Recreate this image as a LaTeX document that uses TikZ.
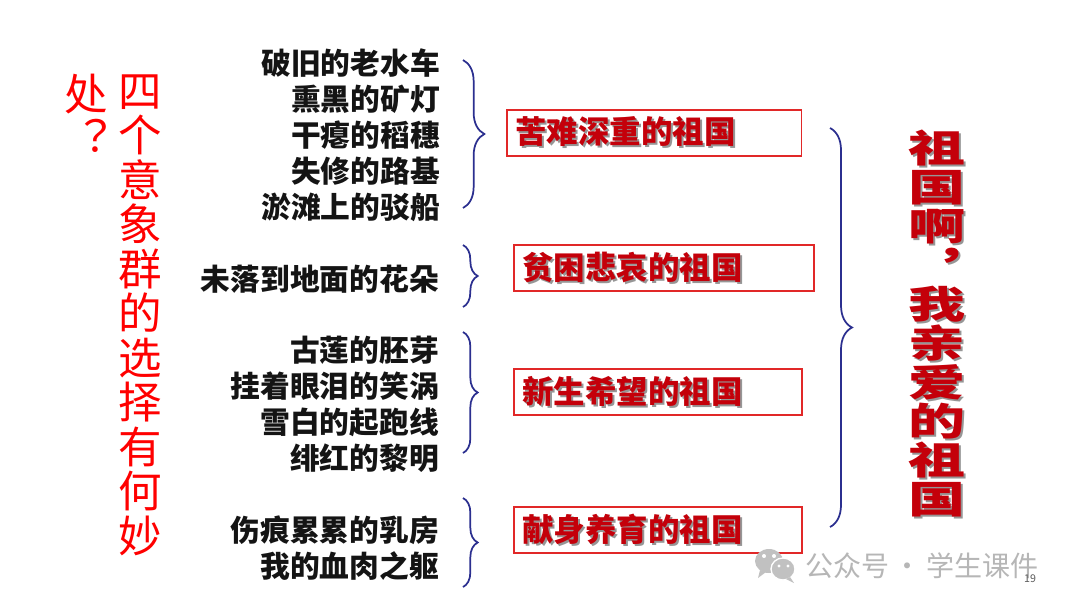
\documentclass[tikz,border=0pt]{standalone}
\usepackage{fontspec}
\usepackage{graphicx}
\usetikzlibrary{positioning,decorations.pathreplacing}
\newfontfamily\cjk{Noto Sans CJK SC}
\definecolor{bracenavy}{RGB}{43,47,143}
\definecolor{boxred}{RGB}{225,40,40}
\definecolor{titlered}{RGB}{255,0,0}
\definecolor{deepred}{RGB}{196,0,10}
\definecolor{itemblack}{RGB}{20,20,20}
\definecolor{shadowgray}{RGB}{150,150,150}
\definecolor{markgray}{RGB}{182,182,182}
\definecolor{pagegray}{RGB}{90,90,90}
\newcommand\shadowtext[1]{\rlap{\color{shadowgray}\kern1.5pt\raisebox{-1.5pt}{#1}}#1}

\begin{document}
\begin{tikzpicture}[x=0.75pt,y=-0.75pt,
	itemtext/.style={font=\cjk\bfseries\fontsize{22.3pt}{27pt}\selectfont, text=itemblack, align=right, inner sep=0pt},
	tagbox/.style={draw=boxred, line width=1.2pt, minimum height=34.5pt, inner xsep=6.5pt, inner ysep=0pt,
		text width=#1, align=left, text=deepred, font=\cjk\bfseries\fontsize{23.6pt}{26pt}\selectfont},
	vtitle/.style={font=\cjk\fontsize{32.6pt}{33.4pt}\selectfont, text=titlered, align=center, inner sep=0pt},
	bigtitle/.style={font=\cjk\bfseries\fontsize{28.5pt}{29.25pt}\selectfont, text=deepred, inner sep=0pt},
	bracket/.style={draw=bracenavy, line width=1.3pt, decorate, decoration={brace, amplitude=#1}},
	]
	\useasboundingbox[fill=white] (0,0) rectangle (1080,608);

	% question, read top-down, right column first
	\node[vtitle] (q1) at (140,315) {四\\个\\意\\象\\群\\的\\选\\择\\有\\何\\妙};
	\node[vtitle, left=7.5pt of q1.north west, anchor=north east] (q2) {处\\︖};

	% image groups
	\node[itemtext, anchor=east] (g1) at (440,135) {破旧的老水车\\熏黑的矿灯\\干瘪的稻穗\\失修的路基\\淤滩上的驳船};
	\node[itemtext, anchor=east] (g2) at (439,279) {未落到地面的花朵};
	\node[itemtext, anchor=east] (g3) at (439,404.5) {古莲的胚芽\\挂着眼泪的笑涡\\雪白的起跑线\\绯红的黎明};
	\node[itemtext, anchor=east] (g4) at (439,548) {伤痕累累的乳房\\我的血肉之躯};

	% what each group says
	\node[tagbox=208pt, anchor=west] (t1) at (506,133) {\shadowtext{苦难深重的祖国}};
	\node[tagbox=212pt, anchor=west] (t2) at (513,268) {\shadowtext{贫困悲哀的祖国}};
	\node[tagbox=203pt, anchor=west] (t3) at (513,392) {\shadowtext{新生希望的祖国}};
	\node[tagbox=203pt, anchor=west] (t4) at (513,530) {\shadowtext{献身养育的祖国}};

	\node[bigtitle] (mother) at (937,324) {\shadowtext{\scalebox{1.5}[1]{\parbox{1em}{\centering
		祖\\国\\啊\\︐\\我\\亲\\爱\\的\\祖\\国}}}};

	% braces
	\coordinate (b1t) at (463,60);  \coordinate (b1b) at (463,208);
	\coordinate (b2t) at (463,245); \coordinate (b2b) at (463,307);
	\coordinate (b3t) at (463,332); \coordinate (b3b) at (463,453);
	\coordinate (b4t) at (463,498); \coordinate (b4b) at (463,587);
	\coordinate (bbt) at (830,128); \coordinate (bbb) at (830,527);
	\draw[bracket=16pt] (b1t) -- (b1b);
	\draw[bracket=11pt] (b2t) -- (b2b);
	\draw[bracket=11pt] (b3t) -- (b3b);
	\draw[bracket=11pt] (b4t) -- (b4b);
	\draw[bracket=16.5pt] (bbt) -- (bbb);

	% watermark
	\fill[markgray!85] (769,561) ellipse [x radius=14, y radius=12];
	\fill[markgray!85] (760,570) -- (758,578) -- (766,572) -- cycle;
	\filldraw[fill=markgray!85, draw=white, line width=1pt] (783,569) ellipse [x radius=12, y radius=11];
	\fill[markgray!85] (790,577) -- (794,583) -- (786,579) -- cycle;
	\fill[white] (764,556) circle [radius=2] (774,556) circle [radius=2];
	\fill[white] (779,566) circle [radius=1.6] (788,566) circle [radius=1.6];
	\node[text=markgray, font=\cjk\fontsize{21pt}{24pt}\selectfont, inner sep=0pt, anchor=west] (wm) at (805,566) {公众号\,·\,学生课件};
	\node[text=pagegray, font=\cjk\fontsize{8pt}{9pt}\selectfont, inner sep=0pt] (pg) at (1030,579) {19};
\end{tikzpicture}
\end{document}
